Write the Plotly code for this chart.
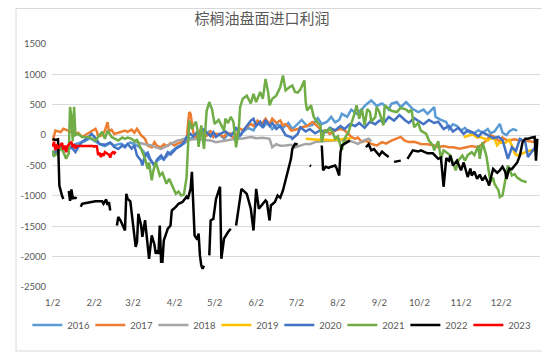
import datetime as dt
import plotly.graph_objects as go

# ---------------- data (day-of-year, value) ----------------
years = ["2016", "2017", "2018", "2019", "2020", "2021", "2022", "2023"]
colors = ["#5B9BD5", "#ED7D31", "#A5A5A5", "#FFC000", "#4472C4", "#70AD47", "#000000", "#FF0000"]

month_ticks = ["1/2", "2/2", "3/2", "4/2", "5/2", "6/2", "7/2", "8/2", "9/2", "10/2", "11/2", "12/2"]
y_ticks = [1500, 1000, 500, 0, -500, -1000, -1500, -2000, -2500]

days_2016 = [2,3,6,8,12,15,19,23,26,30,34,37,41,45,48,53,56,60,63,67,71,73,76,78,80,83,85,89,93,96,
             100,104,107,111,115,119,122,126,130,133,137,141,144,148,152,155,159,163,166,170,174,178,181,185,188,192,196,200,203,207,
             210,213,216,218,222,225,229,233,236,240,244,248,250,253,255,259,262,266,270,271,275,279,282,286,287,288,292,296,298,301,
             304,307,310,312,316,320,323,327,329,332,336,338,341,343,346,349]
vals_2016 = [-350,-300,-220,-180,-250,-200,-150,-120,-100,-50,-100,-150,-180,-130,-170,-140,-180,-120,-150,-200,
             -300,-360,-450,-500,-420,-380,-400,-300,-230,-180,-140,-60,-40,30,0,60,-20,20,-60,10,
             30,-40,50,120,80,200,130,210,100,180,120,200,100,180,250,150,170,280,180,220,
             300,210,250,350,300,420,350,430,500,570,480,520,490,420,515,545,460,545,450,430,
             380,420,350,440,460,300,250,215,100,180,150,75,120,60,20,80,40,100,30,60,
             185,40,0,60,100,75]

days_2017 = [2,4,8,10,13,15,19,21,24,26,30,34,35,36,39,41,43,44,46,48,51,54,56,58,61,63,65,68,71,73,
             76,78,80,83,85,88,90,93,95,98,100,102,103,104,105,106,107,109,111,113,115,117,120,122,124,127,130,132,135,137,
             139,142,144,147,150,152,155,158,161,163,164,166,169,172,174,176,178,180,181,185,188,192,196,198,201,203,206,209,213,217,
             220,223,225,228,230,233,236,240,244,248,251,255,259,262,265,268,272,277,282,287,290,294,298,301,306,311,315,319,323,327,
             329,332,336,338,341,343,347,351,355,358,362]
vals_2017 = [-100,75,50,105,80,55,20,40,-30,0,50,105,60,-20,0,75,215,60,90,20,
             40,60,75,55,90,40,105,0,-60,-170,-200,-115,-180,-200,-150,-180,-130,-170,-140,-115,
             -100,-90,160,380,350,160,50,-60,40,105,40,-10,60,-30,20,10,-30,40,20,-60,
             0,105,80,130,185,150,240,180,270,200,180,270,200,240,160,180,140,75,75,100,
             130,150,215,180,120,50,80,20,75,105,80,20,-30,-60,-40,-115,-90,-145,-170,-115,
             -140,-90,-60,-30,-90,-115,-110,-145,-150,-170,-200,-180,-200,-200,-225,-200,-180,-200,-150,-60,
             0,-30,-115,-40,-80,-90,-70,-90,-80,-100,-115]

days_2018 = [62,65,71,76,79,83,87,90,93,95,98,100,105,110,115,120,124,130,135,139,
             144,150,154,159,164,166,169,172,176,180,183,187,191,194,198,203,211,218,225,230,234,238,240]
vals_2018 = [-100,-120,-150,-170,-200,-225,-180,-145,-120,-90,-80,-60,-75,-60,-80,-90,-115,-90,-80,-60,
             -55,-30,-50,-45,-60,-200,-150,-175,-170,-160,-200,-170,-145,-150,-115,-100,-90,-80,-100,-145,-90,-60,-100]

days_2019 = [191,196,200,203,207,211,214,218,222,225,226,
             309,312,316,319,321,325,327,329,332,334,336,340,343,346,347,349,353,357,360,364]
vals_2019 = [-60,-70,-75,-70,-80,-85,-75,-70,-60,-50,None,
             -35,-10,10,-40,-30,-60,-90,-50,-60,-170,-120,-130,-80,-220,-300,-335,-300,-260,-250,-260]

days_2020 = [2,3,6,9,13,16,19,21,24,26,29,31,34,37,41,45,48,51,54,56,58,61,63,65,68,69,71,73,75,78,
             80,83,85,88,90,94,98,100,102,105,107,110,113,115,117,120,122,124,127,131,135,137,139,142,144,150,152,154,157,159,
             161,164,166,169,172,174,176,180,181,185,187,191,194,198,202,206,209,213,217,220,224,228,231,235,239,243,246,250,253,257,
             261,265,268,272,276,279,283,287,290,294,298,301,305,309,312,316,320,323,327,331,335,338,342,345,348,351,355,357,359,362,364]
vals_2020 = [-280,-310,-250,-195,-250,-200,-280,-200,-110,-80,-30,20,-50,-145,-160,-120,-195,-230,-170,-200,
             -145,-220,-170,-335,-420,-500,-330,-290,-400,-500,-400,-335,-400,-280,-320,-225,-170,-120,-30,20,
             -20,50,0,105,40,-20,50,-30,20,60,-10,40,130,-10,60,240,270,150,220,120,
             250,150,200,100,150,75,0,-30,-60,20,130,60,100,30,80,50,120,80,150,100,
             180,150,200,120,220,180,240,215,300,240,330,250,200,280,230,180,250,200,220,100,
             150,60,120,20,80,40,-20,50,0,-50,-30,-80,-390,-200,-260,-60,-110,-360,-300,-220,-150]

days_2021 = [2,3,6,8,10,12,14,15,16,17,18,19,21,24,29,31,34,37,39,41,43,46,48,51,54,56,58,61,63,65,
             68,71,73,74,76,77,79,82,84,87,89,91,94,96,98,100,102,104,106,107,109,110,111,113,115,117,119,120,121,122,
             123,126,128,130,131,133,135,137,139,141,142,144,147,150,152,154,157,159,161,163,164,166,169,172,174,176,179,181,183,185,
             187,190,191,192,195,197,200,202,203,205,207,209,211,213,215,218,220,223,227,229,231,233,235,237,239,240,243,244,246,249,
             250,253,255,259,262,266,268,270,272,275,277,281,283,286,287,290,292,294,297,299,303,305,308,310,312,315,317,320,321,323,
             326,329,331,332,335,336,338,342,345,347,349,352,356]
vals_2021 = [-250,-340,-300,-200,-280,-390,-300,465,300,-100,465,0,20,-30,-30,-60,-90,0,55,-60,
             75,-30,-60,-90,-40,-60,-40,-60,-100,-80,-225,-390,-555,-450,-745,-605,-440,-665,-620,-800,
             -720,-830,-966,-930,-994,-980,-700,240,100,150,220,105,-195,160,-225,400,545,480,430,300,
             185,250,160,75,270,200,300,220,-200,100,460,600,650,520,680,545,710,600,925,700,
             490,600,650,790,980,735,790,815,710,700,750,900,545,405,490,300,200,160,-115,75,
             60,105,50,-60,-20,-250,-60,55,320,490,270,430,160,430,380,220,300,465,380,160,
             490,440,400,380,450,420,380,420,130,200,75,20,-90,-170,-250,-100,-390,-250,-300,-330,
             -580,-420,-335,-420,-330,-280,-330,-170,-390,-115,-350,-775,-700,-800,-910,-1020,-994,-500,-665,-640,
             -700,-745,-775]

days_2022 = [2,4,6,7,9,10, 11,
             14,15,16,17,19,20, 21,
             23,24,26,34,39,40,42,43,44,45, 47,
             50,51,53,56,57,58,60,61,62,64,65,66,68,69,71,73,74,76,78,79,80,81,82,83,84,85,88,90,91,94,
             96,99,102,103,105,106,108,110,111,112,113,114,115, 117,
             119,120,122,124,127,128,130,132,133,135, 137,
             139,142,143,147,150,152,154,156,158,161,162,164,165,168,170,172,174,176,178,180,181,183,185, 189,
             194,195, 199,
             203,204,206,208,210,213,214,216,217,218,222,224, 230,
             236,238,240,242,246,248,250,253, 255,
             257,262, 264,
             267,269,271,275,277,282,286,290,292,294,296,298,299,301,304,307,309,312,314,315,
             317,319,321,323,325,327,328,330,331,334,336,338,340,341,343,345,347,349,351,353,
             355,357,360,362,363,364]
vals_2022 = [-60,-80,-70,-830,-1000,-1050, None,
             -920,-1080,-895,-1040,-1030,-1040, None,
             -1180,-1130,-1120,-1090,-1090,-1130,-1060,-1150,-1100,-1240, None,
             -1487,-1345,-1420,-1570,-966,-1050,-1090,-1265,-1487,-1840,-1760,-1295,-1480,-1675,-1400,-1870,-2035,-1650,-1800,-1955,
             -1900,-1955,-1487,-2085,-2085,-1735,-1540,-1487,-1240,-1180,
             -1130,-1100,-1015,-1050,-885,-605,-1650,-1720,-1620,-1980,-2145,-2200,-2150, None,
             -1980,-1405,-1380,-1050,-850,-2035,-1705,-1620,-1595,-1540, None,
             -1487,-1050,-885,-966,-1212,-1570,-885,-1212,-1150,-1075,-1100,-1405,-1158,-1100,-994,-1030,-911,-720,-555,-390,-225,-145,-150, None,
             -500,-510, None,
             -170,-580,-520,-540,-520,-500,-540,-665,-280,-170,-115,-90, None,
             -200,-150,-250,-230,-335,-270,-310,-360, None,
             -440,-420, None,
             -390,-330,-250,-270,-250,-300,-300,-390,-370,-850,-380,-420,-335,-500,-420,-580,-450,-690,-550,-665,
             -600,-720,-650,-745,-680,-770,-830,-640,-555,-620,-580,-520,-600,-720,-550,-560,-500,-450,-335,-115,
             -60,-60,-40,-30,-420,-60]

days_2023 = [2,3,4,5,6,9,10,11,12,13,16,17,18,19,20,26,30,31,32,33,34,35,36,37,38,39,40,41,44,45,46,47,48,49]
vals_2023 = [-190,-110,-250,-150,-220,-130,-240,-170,-280,-180,-110,-200,-150,-220,-180,-180,-180,-175,-180,-190,
             -180,-185,-330,-290,-360,-300,-340,-280,-320,-370,-300,-280,-300,-270]

series_days = [days_2016, days_2017, days_2018, days_2019, days_2020, days_2021, days_2022, days_2023]
series_vals = [vals_2016, vals_2017, vals_2018, vals_2019, vals_2020, vals_2021, vals_2022, vals_2023]

# ---------------- figure ----------------
base = dt.datetime(2000, 1, 1)


def to_date(d):
    return base + dt.timedelta(days=d - 1)


fig = go.Figure()
for name, col, ds, vs in zip(years, colors, series_days, series_vals):
    assert len(ds) == len(vs), name
    fig.add_trace(go.Scatter(
        x=[to_date(d) for d in ds], y=vs, name=name, mode="lines",
        line=dict(color=col, width=2.5), connectgaps=False,
    ))

tick_dates = [dt.datetime(2000, m, 2) for m in range(1, 13)]

# the page body adds an 8px offset, so the layout is placed 8px up/left
ML, MT, PW, PH = 37, 36, 495, 243
W, H = 550, 355

fig.update_layout(
    width=W, height=H,
    margin=dict(l=ML, r=W - ML - PW, t=MT, b=H - MT - PH),
    paper_bgcolor="white", plot_bgcolor="white",
    title=dict(text="棕榈油盘面进口利润", x=254 / W, xanchor="center", y=1 - 11 / H, yanchor="middle",
               font=dict(family="Noto Sans CJK SC", size=15, color="#595959")),
    font=dict(family="Lato, Noto Sans CJK SC", color="#595959", size=9.5),
    showlegend=True,
    legend=dict(orientation="h", x=(12 - ML) / PW, xanchor="left", y=-38 / PH, yanchor="middle",
                font=dict(size=9.5, color="#595959"), itemwidth=30, entrywidth=18,
                bgcolor="rgba(0,0,0,0)"),
    xaxis=dict(type="date", range=[dt.datetime(2000, 1, 1, 12), dt.datetime(2000, 12, 31)],
               tickvals=tick_dates, ticktext=month_ticks, showgrid=False, zeroline=False,
               showline=False, ticks="", ticklabelstandoff=8, tickfont=dict(size=9.5, color="#595959")),
    yaxis=dict(range=[-2500, 1500], tickvals=y_ticks, ticktext=[str(v) for v in y_ticks],
               showgrid=True, gridcolor="#D9D9D9", gridwidth=1, zeroline=False, showline=False,
               ticks="", ticklabelstandoff=5, tickfont=dict(size=9.5, color="#595959")),
    shapes=[dict(type="rect", xref="paper", yref="paper",
                 x0=(0.5 - ML) / PW, x1=(540 - ML) / PW, y0=(MT + PH - 343) / PH, y1=(MT + PH - 0.5) / PH,
                 line=dict(color="#D9D9D9", width=1), fillcolor="rgba(0,0,0,0)", layer="below")],
    hovermode=False,
)

fig.write_html("out.html")
